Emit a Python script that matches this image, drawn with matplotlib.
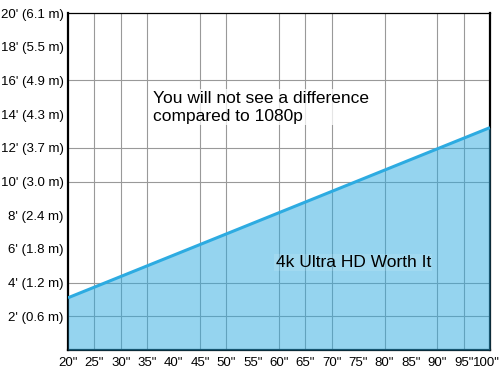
import matplotlib
matplotlib.use("Agg")
import matplotlib.pyplot as plt
import matplotlib.transforms as mtransforms

# Data
sizes = [20, 100]                 # screen size (inches)
distance_ft = [3.1, 13.2]         # viewing distance threshold (feet)
x_ticks = [20, 25, 30, 35, 40, 45, 50, 55, 60, 65, 70, 75, 80, 85, 90, 95, 100]
x_labels = ['%d"' % v for v in x_ticks]
y_ticks = [2, 4, 6, 8, 10, 12, 14, 16, 18, 20]
y_labels = ["2' (0.6 m)", "4' (1.2 m)", "6' (1.8 m)", "8' (2.4 m)", "10' (3.0 m)",
            "12' (3.7 m)", "14' (4.3 m)", "16' (4.9 m)", "18' (5.5 m)", "20' (6.1 m)"]
grid_x = [25, 30, 35, 45, 50, 60, 65, 70, 80, 90, 95]
grid_y = [2, 4, 10, 12, 16]

plt.rcParams['font.family'] = ['Liberation Sans', 'DejaVu Sans']

fig = plt.figure(figsize=(5, 3.78), dpi=100)
ax = fig.add_axes([0.136, 0.074, 0.844, 0.8916])
ax.set_xlim(20, 100)
ax.set_ylim(0, 20)

line_c = '#2DABE1'
for gx in grid_x:
    ax.axvline(gx, color='#999999', lw=0.8, zorder=1)
for gy in grid_y:
    ax.axhline(gy, color='#999999', lw=0.8, zorder=1)

ax.fill_between(sizes, distance_ft, 0, color=line_c, alpha=0.5, lw=0, zorder=3)
ax.plot(sizes, distance_ft, color=line_c, lw=2.2, zorder=4, solid_capstyle='butt')

ax.set_xticks(x_ticks)
ax.set_xticklabels(x_labels, fontsize=9.5)
ax.set_yticks(y_ticks)
ax.set_yticklabels(y_labels, fontsize=9.5)
ax.tick_params(length=0, pad=3)
ax.tick_params(axis='x', pad=5)

# keep the last x label inside the figure (as in the reference, it hugs the right edge)
last = ax.get_xticklabels()[-1]
last.set_horizontalalignment('right')
last.set_transform(last.get_transform() +
                   mtransforms.ScaledTranslation(0.095, 0, fig.dpi_scale_trans))

for side in ['left', 'bottom', 'right']:
    ax.spines[side].set_linewidth(1.6)
ax.spines['top'].set_linewidth(0.9)
for s in ax.spines.values():
    s.set_color('black')
    s.set_zorder(2.5)

ax.text(36.1, 14.4, "You will not see a difference\ncompared to 1080p", fontsize=12.5,
        ha='left', va='center', linespacing=1.25, zorder=5,
        bbox=dict(facecolor='white', edgecolor='none', alpha=0.75, pad=1))
ax.text(59.4, 5.2, "4k Ultra HD Worth It", fontsize=12.5, ha='left', va='center', zorder=5,
        bbox=dict(facecolor='white', edgecolor='none', alpha=0.12, pad=1))

fig.savefig('out.png', dpi=100)
